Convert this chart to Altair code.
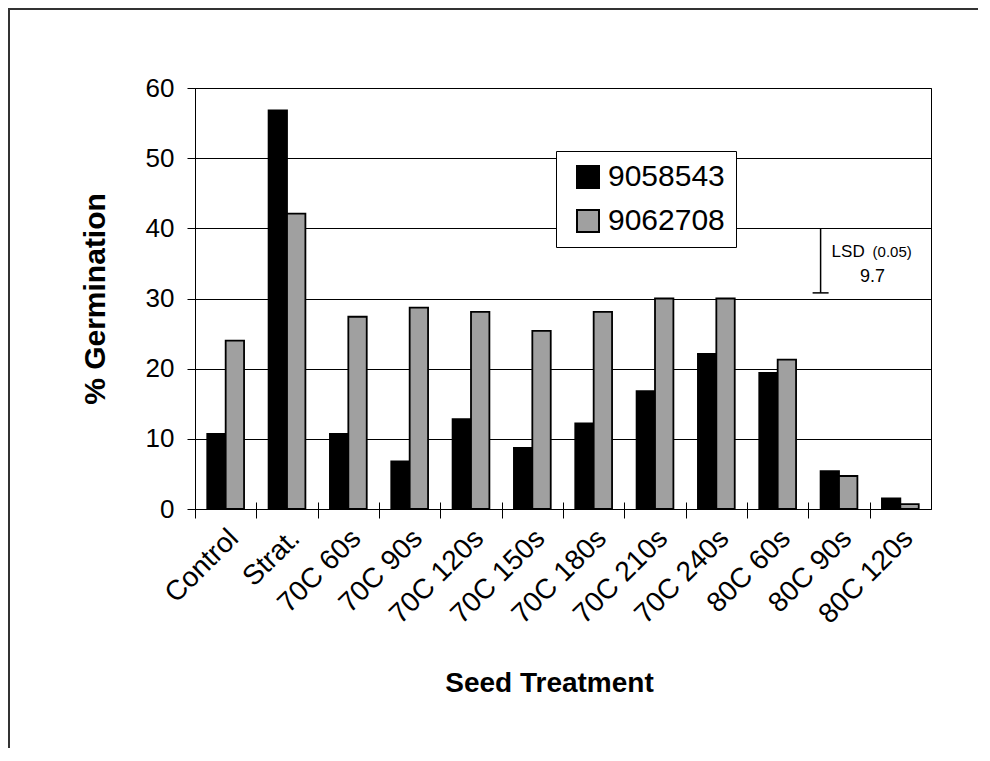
import altair as alt
import pandas as pd

treatments = ["Control", "Strat.", "70C 60s", "70C 90s", "70C 120s", "70C 150s",
              "70C 180s", "70C 210s", "70C 240s", "80C 60s", "80C 90s", "80C 120s"]
series_names = ["9058543", "9062708"]
vals_9058543 = [10.7, 56.8, 10.7, 6.8, 12.8, 8.7, 12.2, 16.8, 22.1, 19.4, 5.4, 1.5]
vals_9062708 = [24.0, 42.1, 27.4, 28.7, 28.1, 25.4, 28.1, 30.0, 30.0, 21.3, 4.7, 0.7]
y_ticks = [0, 10, 20, 30, 40, 50, 60]

lsd_value = 9.7
lsd_top = 40.0
lsd_bottom = 30.8
lsd_at = "80C 90s"

FONT = "Liberation Sans"
W, H = 736, 421
STEP = W / len(treatments)
HALF = STEP / 2

rows = []
for t, a, b in zip(treatments, vals_9058543, vals_9062708):
    rows.append({"treatment": t, "series": series_names[0], "value": a})
    rows.append({"treatment": t, "series": series_names[1], "value": b})
df = pd.DataFrame(rows)

xscale = alt.Scale(domain=treatments, paddingInner=0.4, paddingOuter=0.2)
yscale = alt.Scale(domain=[0, 60], nice=False)

bars = alt.Chart(df).mark_bar(stroke="black", strokeWidth=1.8).encode(
    x=alt.X("treatment:N", sort=treatments, scale=xscale,
            axis=alt.Axis(orient="bottom", labelAngle=-45, labelAlign="right",
                          labelBaseline="middle", labelPadding=16,
                          labelFontSize=28, labelFont=FONT, labelColor="black",
                          tickOffset=-HALF, labelOffset=HALF + 8,
                          ticks=True, tickSize=9, tickColor="black",
                          domainColor="black", grid=False,
                          title="Seed Treatment", titleFont=FONT, titleFontSize=28,
                          titleFontWeight="bold", titleColor="black",
                          titleX=354, titleY=174, titleBaseline="middle",
                          titleAlign="center", titleAnchor="start")),
    xOffset=alt.XOffset("series:N", sort=series_names,
                        scale=alt.Scale(paddingInner=0, paddingOuter=0)),
    y=alt.Y("value:Q", scale=yscale,
            axis=alt.Axis(values=y_ticks, tickSize=8, tickColor="black",
                          domainColor="black", labelFontSize=26, labelFont=FONT,
                          labelColor="black", labelPadding=13,
                          grid=True, gridColor="black", gridOpacity=1, gridWidth=1,
                          title="% Germination", titleFont=FONT, titleFontSize=30,
                          titleFontWeight="bold", titleColor="black",
                          titleX=-100, titleY=H / 2, titleAngle=-90,
                          titleBaseline="middle", titleAlign="center")),
    color=alt.Color("series:N", sort=series_names,
                    scale=alt.Scale(domain=series_names, range=["#000000", "#a0a0a0"]),
                    legend=alt.Legend(title=None, orient="none", legendX=361, legendY=63,
                                      symbolType="square", symbolSize=484,
                                      symbolStrokeColor="black", symbolStrokeWidth=2,
                                      labelFontSize=30, labelFont=FONT, labelColor="black",
                                      labelOffset=5, rowPadding=14, padding=11,
                                      symbolOffset=6,
                                      fillColor="white", strokeColor="black")),
)

lsd_df = pd.DataFrame({"treatment": [lsd_at], "top": [lsd_top], "bottom": [lsd_bottom]})

# inner halves of the crossing category ticks (top axis moved onto the bottom edge)
lsd_line = alt.Chart(lsd_df).mark_rule(color="black", strokeWidth=1.5).encode(
    x=alt.X("treatment:N", sort=treatments, scale=xscale, bandPosition=0,
            axis=alt.Axis(orient="top", offset=-H, labels=False, domain=False,
                          ticks=True, tickOffset=-HALF, tickSize=7, tickColor="black",
                          grid=False, title=None)),
    y=alt.Y("top:Q", scale=yscale, axis=None),
    y2="bottom:Q",
)

lsd_cap = alt.Chart(lsd_df).mark_point(
    shape="M -1 0 L 1 0", size=256, filled=False, stroke="black", strokeWidth=1.5,
    opacity=1
).encode(
    x=alt.X("treatment:N", sort=treatments, scale=xscale, bandPosition=0, axis=None),
    y=alt.Y("bottom:Q", scale=yscale, axis=None),
)

ann_df = pd.DataFrame({
    "treatment": [lsd_at, lsd_at, lsd_at],
    "text": ["LSD", "(0.05)", str(lsd_value)],
    "yv": [35.9, 35.9, 32.35],
})

def ann(i, align, dx, size):
    return alt.Chart(ann_df.iloc[[i]]).mark_text(
        align=align, baseline="alphabetic", dx=dx, fontSize=size, font=FONT, color="black"
    ).encode(
        x=alt.X("treatment:N", sort=treatments, scale=xscale, bandPosition=0, axis=None),
        y=alt.Y("yv:Q", scale=yscale, axis=None),
        text="text:N",
    )

lsd_txt = ann(0, "left", 11, 17)
p_txt = ann(1, "left", 52, 15)
v_txt = ann(2, "center", 52, 18)

frame_df = pd.DataFrame({"k": [0]})
frame_top = alt.Chart(frame_df).mark_rule(color="#333333", strokeWidth=2).encode(
    x=alt.value(-187), x2=alt.value(790), y=alt.value(-79))
frame_left = alt.Chart(frame_df).mark_rule(color="#333333", strokeWidth=2).encode(
    x=alt.value(-186), y=alt.value(-80), y2=alt.value(660))

chart = alt.layer(bars, lsd_line, lsd_cap, lsd_txt, p_txt, v_txt, frame_top, frame_left).resolve_axis(
    x="independent", y="independent"
).properties(
    width=W, height=H,
    autosize=alt.AutoSizeParams(type="none"),
    padding={"left": 187, "top": 80, "right": 47, "bottom": 239},
).configure(background="white").configure_view(stroke="black", strokeWidth=1)

chart.save("out.html", embed_options={"renderer": "svg", "actions": False})
